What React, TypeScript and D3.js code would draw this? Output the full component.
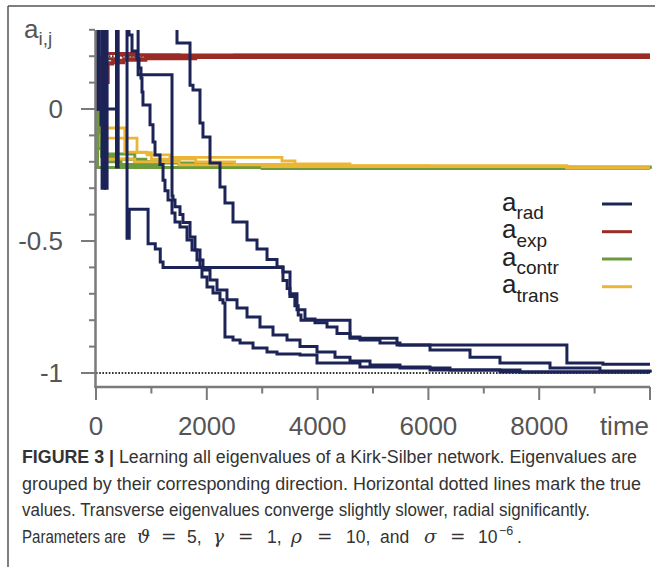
import React from "react";
import * as d3 from "d3";

type P = [number, number];

// ---- data (time, eigenvalue) ----
const radA: P[] = [[0,0],[350,0],[370,0.6],[560,-0.49],[575,-0.43],[590,-0.49],[600,-0.38],[940,-0.51],[1070,-0.53],[1160,-0.58],[1210,-0.6],[3375,-0.65],[3450,-0.68],[3500,-0.71],[3590,-0.745],[3650,-0.78],[3700,-0.8],[4585,-0.868],[5433,-0.894],[8500,-0.962],[9150,-0.967],[10000,-0.967]];
const radB: P[] = [[0,0],[90,-0.06],[140,0.6],[1462,0.25],[1697,0.09],[1751,0.072],[1877,-0.053],[1931,-0.106],[2058,-0.205],[2238,-0.295],[2328,-0.356],[2473,-0.428],[2726,-0.496],[2906,-0.53],[3087,-0.57],[3267,-0.598],[3375,-0.617],[3502,-0.7],[3628,-0.76],[3772,-0.795],[3953,-0.81],[4170,-0.826],[4350,-0.85],[4585,-0.864],[4765,-0.875],[5126,-0.886],[5487,-0.894],[6029,-0.913],[6751,-0.94],[7292,-0.962],[8195,-0.981],[9097,-0.992],[10000,-0.995]];
const radC: P[] = [[0,0],[60,0.6],[170,-0.3],[200,0.6],[370,-0.22],[400,0.6],[596,0.28],[650,0.22],[740,0.19],[776,0.155],[812,0.117],[830,0.064],[848,0.015],[975,-0.06],[1029,-0.125],[1065,-0.174],[1155,-0.21],[1210,-0.27],[1245,-0.31],[1300,-0.345],[1372,-0.394],[1426,-0.428],[1516,-0.447],[1643,-0.496],[1733,-0.534],[1823,-0.572],[1877,-0.598],[1913,-0.636],[2004,-0.674],[2112,-0.697],[2238,-0.723],[2292,-0.735],[2328,-0.864],[2473,-0.875],[2600,-0.886],[2834,-0.905],[3087,-0.92],[3267,-0.928],[3682,-0.932],[3989,-0.962],[4765,-0.977],[6029,-0.989],[7292,-0.996],[10000,-0.998]];
const radD: P[] = [[0,0],[20,0.6],[110,-0.3],[150,0.6],[760,0.13],[1372,-0.33],[1390,-0.345],[1426,-0.37],[1516,-0.4],[1570,-0.43],[1697,-0.485],[1787,-0.534],[1877,-0.572],[1931,-0.61],[2058,-0.648],[2184,-0.686],[2364,-0.723],[2545,-0.754],[2726,-0.788],[2960,-0.826],[3195,-0.856],[3448,-0.875],[3682,-0.9],[3989,-0.92],[4314,-0.94],[4585,-0.955],[4946,-0.97],[5487,-0.981],[6390,-0.989],[7653,-0.996],[10000,-0.998]];

const expA: P[] = [[0,0],[100,0.19],[400,0.205],[1500,0.2],[10000,0.2]];
const expB: P[] = [[0,0],[170,0.1],[220,0.17],[300,0.185],[900,0.195],[2500,0.204],[10000,0.204]];
const expC: P[] = [[0,0],[130,0.05],[180,0.21],[700,0.205],[10000,0.205]];
const expD: P[] = [[0,0],[60,0.03],[100,0.12],[150,0.175],[500,0.19],[1800,0.195],[10000,0.195]];

const contrA: P[] = [[0,0],[40,-0.15],[130,-0.2],[450,-0.21],[1200,-0.222],[10000,-0.225]];
const contrB: P[] = [[0,0],[70,-0.09],[160,-0.17],[700,-0.2],[1500,-0.215],[3000,-0.225],[10000,-0.225]];
const contrC: P[] = [[0,0],[100,-0.18],[350,-0.19],[900,-0.205],[2500,-0.22],[10000,-0.225]];
const contrD: P[] = [[0,0],[30,-0.222],[10000,-0.226]];

const transA: P[] = [[0,0],[110,-0.072],[520,-0.163],[920,-0.174],[1335,-0.183],[3357,-0.197],[3592,-0.208],[4585,-0.215],[8500,-0.223],[10000,-0.223]];
const transB: P[] = [[0,0],[110,-0.11],[740,-0.165],[1000,-0.19],[1800,-0.2],[2500,-0.21],[4000,-0.216],[6000,-0.218],[8500,-0.223],[10000,-0.223]];
const transC: P[] = [[0,0],[150,-0.19],[700,-0.2],[1500,-0.212],[3000,-0.218],[8500,-0.223],[10000,-0.223]];

const trueValues = [0.2, -0.222, -1];
const xTicks = [0,1000,2000,3000,4000,5000,6000,7000,8000,9000,10000];
const xLabels = ["0","2000","4000","6000","8000"];
const yTicks = [-1,-0.9,-0.8,-0.7,-0.6,-0.5,-0.4,-0.3,-0.2,-0.1,0,0.1,0.2,0.3];
const yLabels: [number,string][] = [[0,"0"],[-0.5,"-0.5"],[-1,"-1"]];
const legendSubs = ["rad","exp","contr","trans"];

const captionLines = [
  "grouped by their corresponding direction. Horizontal dotted lines mark the true",
  "values. Transverse eigenvalues converge slightly slower, radial significantly.",
];
// last caption line pieces: [text, kind] where m = math italic, o = operator, t = text, s = superscript
const paramPieces: [string, string, number][] = [
  ["ϑ","m",137],["=","o",161],["5,","t",187],["γ","m",213],["=","o",238],["1,","t",267],
  ["ρ","m",291],["=","o",317],["10,","t",346],["and","t",380],["σ","m",424],["=","o",450],
  ["10","t",478],["−6","s",499],[".","t",517],
];

const COLORS = { rad: "#1c2457", exp: "#9a2b25", contr: "#6b9b3c", trans: "#ecb535" };

export default function App() {
  const x = d3.scaleLinear().domain([0, 10000]).range([96, 650]);
  const y = d3.scaleLinear().domain([-1, 0.3]).range([373, 29.8]);
  const line = d3.line<P>().x(d => x(d[0])).y(d => y(d[1])).curve(d3.curveStepAfter);
  const axisColor = "#7a7a7a";
  const fontAxis = "'Liberation Sans', Arial, Helvetica, sans-serif";
  const groups: [string, P[][], number][] = [
    [COLORS.exp, [expA, expB, expC, expD], 3],
    [COLORS.contr, [contrA, contrB, contrC, contrD], 3],
    [COLORS.trans, [transA, transB, transC], 2.8],
    [COLORS.rad, [radA, radB, radC, radD], 3],
  ];
  const legendColors = [COLORS.rad, COLORS.exp, COLORS.contr, COLORS.trans];
  const legendY = [204, 231.7, 259, 286.7];
  const serif = "'DejaVu Serif', serif";

  return (
    <svg width={655} height={573} style={{ position: "absolute", left: 0, top: 0, background: "#fff" }}>
      <rect x={0} y={0} width={655} height={573} fill="#fff" />
      {/* frame */}
      <line x1={8} y1={6} x2={655} y2={6} stroke="#555" strokeWidth={1.5} />
      <line x1={8} y1={6} x2={8} y2={567} stroke="#555" strokeWidth={1.5} />
      <defs>
        <clipPath id="plotClip">
          <rect x={95} y={30} width={557} height={357} />
        </clipPath>
      </defs>
      {/* dotted true values */}
      {trueValues.map((v, i) => (
        <line key={"t" + i} x1={x(0)} x2={x(10000)} y1={y(v)} y2={y(v)} stroke="#333" strokeWidth={2} strokeDasharray="1.6 1.6" />
      ))}
      <g clipPath="url(#plotClip)" fill="none">
        {groups.map(([c, series, w], gi) =>
          series.map((s, si) => (
            <path key={gi + "-" + si} d={line(s) || ""} stroke={c} strokeWidth={w} strokeLinejoin="miter" />
          ))
        )}
      </g>
      {/* axes */}
      <line x1={95.5} y1={30} x2={95.5} y2={388} stroke={axisColor} strokeWidth={2.5} />
      <line x1={94.5} y1={387} x2={650} y2={387} stroke={axisColor} strokeWidth={2.5} />
      {yTicks.map((v, i) => {
        const major = Math.abs(v * 2 - Math.round(v * 2)) < 1e-6 && v <= 0;
        return <line key={"yt" + i} x1={major ? 81 : 89} x2={95} y1={y(v)} y2={y(v)} stroke={axisColor} strokeWidth={2} />;
      })}
      {xTicks.map((t, i) => (
        <line key={"xt" + i} x1={x(t)} x2={x(t)} y1={387} y2={i % 2 === 0 ? 400 : 393.5} stroke={axisColor} strokeWidth={2} />
      ))}
      <g fontFamily={fontAxis} fontSize={26} fill="#555">
        {yLabels.map(([v, s]) => (
          <text key={"yl" + s} x={63} y={y(v)} dy="0.36em" textAnchor="end">{s}</text>
        ))}
        {xLabels.map((s, i) => (
          <text key={"xl" + s} x={x(i * 2000)} y={435} textAnchor="middle">{s}</text>
        ))}
        <text x={649} y={435} textAnchor="end">time</text>
        <text x={24} y={38}>a<tspan fontSize={19} dy={7}>i,j</tspan></text>
      </g>
      {/* legend */}
      <g fontFamily={fontAxis} fill="#222">
        {legendSubs.map((s, i) => (
          <g key={"lg" + s}>
            <text x={502} y={legendY[i] + 6.5} fontSize={26}>a<tspan fontSize={19} dy={8.5}>{s}</tspan></text>
            <line x1={602} x2={632} y1={legendY[i]} y2={legendY[i]} stroke={legendColors[i]} strokeWidth={3} />
          </g>
        ))}
      </g>
      {/* caption */}
      <g fontFamily={fontAxis} fontSize={17.5} fill="#333">
        <text x={22} y={463} textLength={615} lengthAdjust="spacingAndGlyphs">
          <tspan fontWeight="bold">FIGURE 3 |</tspan> Learning all eigenvalues of a Kirk-Silber network. Eigenvalues are
        </text>
        <text x={22} y={489.5} textLength={619} lengthAdjust="spacingAndGlyphs">{captionLines[0]}</text>
        <text x={22} y={516} textLength={568} lengthAdjust="spacingAndGlyphs">{captionLines[1]}</text>
        <text x={22} y={542.5} textLength={104} lengthAdjust="spacingAndGlyphs">Parameters are</text>
        {paramPieces.map(([s, k, px], i) => (
          <text key={"pp" + i} x={px} y={k === "s" ? 535 : 542.5}
            fontFamily={k === "m" || k === "o" ? serif : fontAxis}
            fontStyle={k === "m" ? "italic" : "normal"}
            fontSize={k === "s" ? 12.5 : k === "t" ? 17.5 : 18.5}>{s}</text>
        ))}
      </g>
    </svg>
  );
}
